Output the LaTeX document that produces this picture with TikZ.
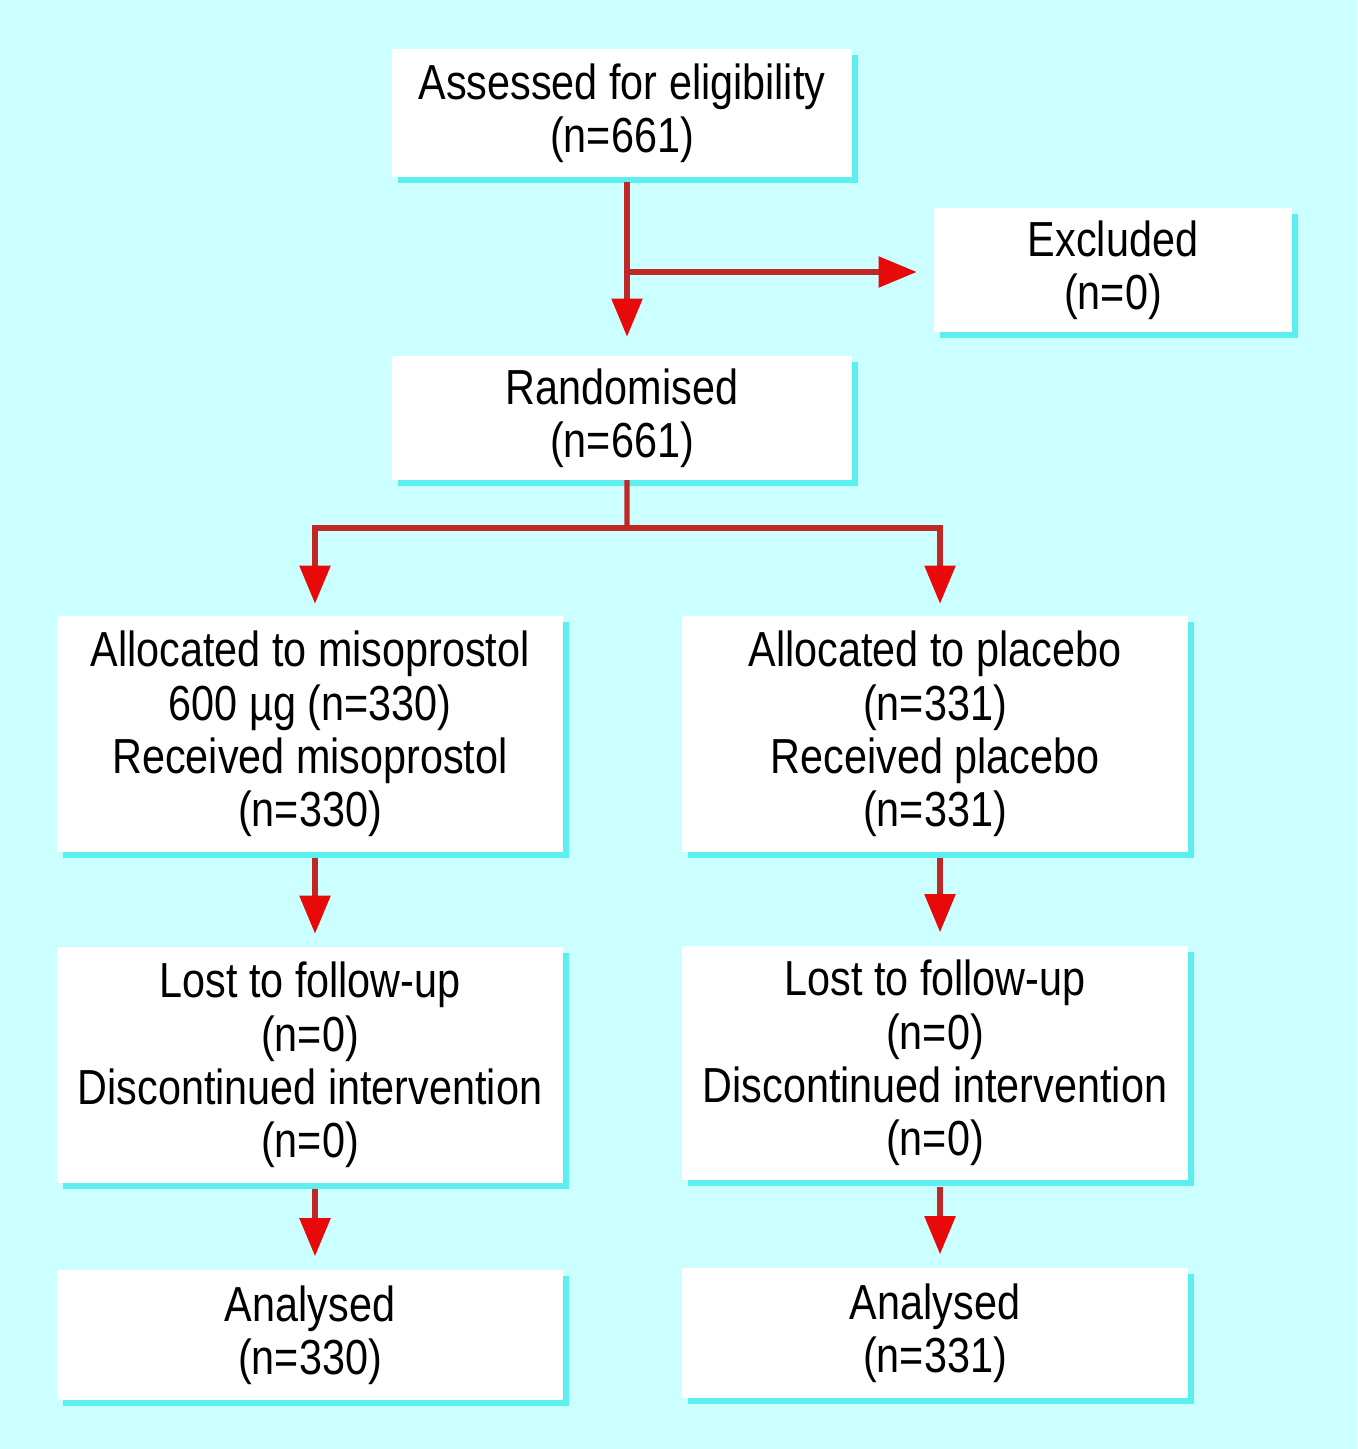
\documentclass[tikz,border=0pt]{standalone}
\usepackage{fontspec}
\setmainfont{Liberation Sans}[FakeStretch=0.84]
\usetikzlibrary{arrows.meta,shadows}

\definecolor{bgcyan}{HTML}{CCFFFF}
\definecolor{shcyan}{HTML}{5CEFEF}
\definecolor{linered}{HTML}{C02828}
\definecolor{tipred}{HTML}{E80A0A}

\begin{document}
\begin{tikzpicture}[x=0.01cm, y=-0.01cm,
  box/.style={fill=white, align=center, inner sep=0pt,
    font=\fontsize{14}{15.2}\selectfont,
    drop shadow={shadow xshift=0.06cm, shadow yshift=-0.06cm, fill=shcyan, opacity=1}},
  arr/.style={draw=linered, line width=1.5pt,
    -{Triangle[length=0.38cm, width=0.3cm, color=tipred, fill=tipred]}}]

\fill[bgcyan] (0,0) rectangle (1357,1449);
\useasboundingbox (0,0) rectangle (1357,1449);

% boxes
\node[box, minimum width=4.59cm, minimum height=1.27cm] (assess) at (622,113) {Assessed for eligibility\\(n=661)};
\node[box, minimum width=3.57cm, minimum height=1.24cm] (excl) at (1113,270) {Excluded\\(n=0)};
\node[box, minimum width=4.59cm, minimum height=1.23cm] (rand) at (622,418) {Randomised\\(n=661)};

\node[box, minimum width=5.06cm, minimum height=2.35cm] (allocM) at (310,734) {Allocated to misoprostol\\600 µg (n=330)\\Received misoprostol\\(n=330)};
\node[box, minimum width=5.05cm, minimum height=2.35cm] (allocP) at (935,734) {Allocated to placebo\\(n=331)\\Received placebo\\(n=331)};

\node[box, minimum width=5.06cm, minimum height=2.35cm] (lostM) at (310,1065) {Lost to follow-up\\(n=0)\\Discontinued intervention\\(n=0)};
\node[box, minimum width=5.05cm, minimum height=2.34cm] (lostP) at (935,1063) {Lost to follow-up\\(n=0)\\Discontinued intervention\\(n=0)};

\node[box, minimum width=5.06cm, minimum height=1.30cm] (anaM) at (310,1335) {Analysed\\(n=330)};
\node[box, minimum width=5.05cm, minimum height=1.30cm] (anaP) at (935,1333) {Analysed\\(n=331)};

% connectors
\coordinate (split) at (627,272);
\coordinate (fork) at (627,528);

\draw[arr, shorten <=0.05cm, shorten >=0.19cm] ([xshift=0.05cm]assess.south) -- ([xshift=0.05cm]rand.north);
\draw[arr, shorten >=0.17cm] (split) -- (split -| excl.west);
\draw[draw=linered, line width=1.5pt] ([xshift=0.05cm]rand.south) -- (fork);
\draw[arr, shorten >=0.12cm] (fork) -| ([xshift=0.05cm]allocM.north);
\draw[arr, shorten >=0.12cm] (fork) -| ([xshift=0.05cm]allocP.north);

\draw[arr, shorten <=0.06cm, shorten >=0.13cm] ([xshift=0.05cm]allocM.south) -- ([xshift=0.05cm]lostM.north);
\draw[arr, shorten <=0.06cm, shorten >=0.13cm] ([xshift=0.05cm]allocP.south) -- ([xshift=0.05cm]lostP.north);
\draw[arr, shorten <=0.06cm, shorten >=0.13cm] ([xshift=0.05cm]lostM.south) -- ([xshift=0.05cm]anaM.north);
\draw[arr, shorten <=0.06cm, shorten >=0.13cm] ([xshift=0.05cm]lostP.south) -- ([xshift=0.05cm]anaP.north);

\end{tikzpicture}
\end{document}
